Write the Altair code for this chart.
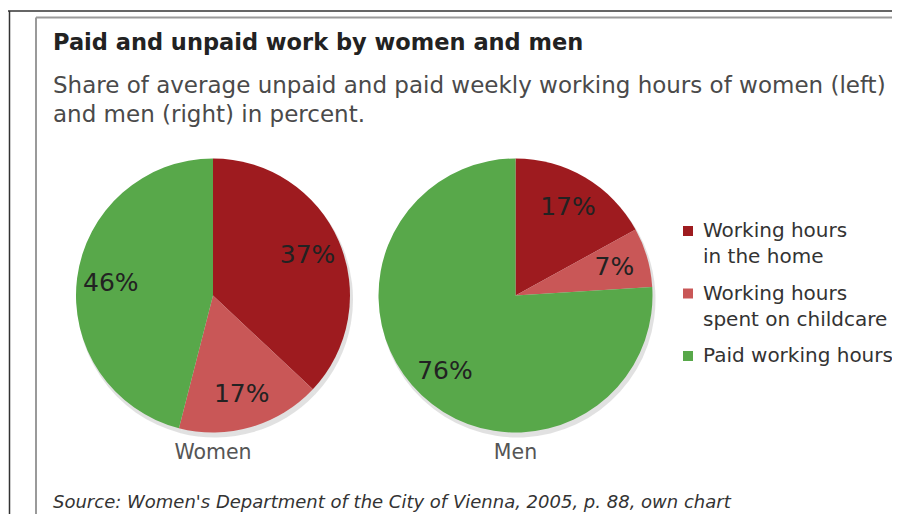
import altair as alt
import pandas as pd

# ---- data ----
groups = ["Women", "Men"]
categories = ["Working hours in the home", "Working hours spent on childcare", "Paid working hours"]
women_values = [37, 17, 46]
men_values = [17, 7, 76]
legend_labels = ["Working hours\nin the home", "Working hours\nspent on childcare", "Paid working hours"]
colors = ["#9e1b1f", "#c95757", "#58a84a"]

title_text = "Paid and unpaid work by women and men"
subtitle_text = "Share of average unpaid and paid weekly working hours of women (left)\nand men (right) in percent."
source_text = "Source: Women's Department of the City of Vienna, 2005, p. 88, own chart"

rows = []
for g, vals in zip(groups, [women_values, men_values]):
    for i, (c, v) in enumerate(zip(categories, vals)):
        rows.append({"group": g, "category": c, "value": v, "order": i, "label": f"{v}%"})
pie_df = pd.DataFrame(rows)
group_df = pd.DataFrame({"group": groups})
leg_df = pd.DataFrame({"category": categories, "label": legend_labels})

# ---- layout ----
W, H = 884, 506
cx = [205, 507.5]
cy = 287.5
R = 137
FONT = "DejaVu Sans"

x_enc = alt.X("group:N", scale=alt.Scale(type="point", domain=groups, range=cx, padding=0), axis=None)
color_scale = alt.Scale(domain=categories, range=colors)
theta_scale = alt.Scale(domain=[0, 100])

base = (
    alt.Chart(pie_df)
    .transform_stack(stack="value", groupby=["group"], as_=["v0", "v1"], sort=[alt.SortField("order")])
    .transform_calculate(mid="(datum.v0 + datum.v1) / 2")
)

shadow = base.mark_arc(radius=R + 1, color="#bdbdbd", opacity=0.45, xOffset=2, yOffset=4).encode(
    x=x_enc,
    y=alt.value(cy),
    theta=alt.Theta("v0:Q", scale=theta_scale, stack=False),
    theta2="v1:Q",
)

arcs = base.mark_arc(radius=R).encode(
    x=x_enc,
    y=alt.value(cy),
    theta=alt.Theta("v0:Q", scale=theta_scale, stack=False),
    theta2="v1:Q",
    color=alt.Color("category:N", scale=color_scale, legend=None),
)

pie_labels = base.mark_text(
    radius=103, font=FONT, fontSize=25, color="#222222", align="center", baseline="middle"
).encode(
    x=x_enc,
    y=alt.value(cy),
    theta=alt.Theta("mid:Q", scale=theta_scale, stack=False),
    text="label:N",
)

group_labels = alt.Chart(group_df).mark_text(
    font=FONT, fontSize=20.5, color="#555555", align="center", baseline="alphabetic"
).encode(x=x_enc, y=alt.value(451), text="group:N")

y_leg = alt.Y("category:N", scale=alt.Scale(type="point", domain=categories, range=[223, 348], padding=0), axis=None)

leg_squares = alt.Chart(leg_df).mark_square(size=100, opacity=1).encode(
    x=alt.value(680), y=y_leg, color=alt.Color("category:N", scale=color_scale, legend=None)
)

leg_text = (
    alt.Chart(leg_df)
    .transform_calculate(lines="split(datum.label, '\\n')")
    .mark_text(font=FONT, fontSize=20, color="#333333", align="left", baseline="alphabetic", dy=6, lineHeight=26)
    .encode(x=alt.value(695), y=y_leg, text="lines:N")
)

title = alt.Chart(pd.DataFrame({"t": [title_text]})).mark_text(
    font=FONT, fontSize=22.5, fontWeight="bold", color="#222222", align="left", baseline="alphabetic"
).encode(x=alt.value(45), y=alt.value(42), text="t:N")

subtitle = (
    alt.Chart(pd.DataFrame({"t": [subtitle_text]}))
    .transform_calculate(lines="split(datum.t, '\\n')")
    .mark_text(font=FONT, fontSize=23, color="#4a4a4a", align="left", baseline="alphabetic", lineHeight=29)
    .encode(x=alt.value(45), y=alt.value(85), text="lines:N")
)

source = alt.Chart(pd.DataFrame({"t": [source_text]})).mark_text(
    font=FONT, fontSize=18, fontStyle="italic", color="#333333", align="left", baseline="alphabetic"
).encode(x=alt.value(45), y=alt.value(500), text="t:N")

dummy = pd.DataFrame({"a": [0]})
outer_top = alt.Chart(dummy).mark_rule(color="#333333", strokeWidth=1.5).encode(
    x=alt.value(0), x2=alt.value(W), y=alt.value(3)
)
outer_left = alt.Chart(dummy).mark_rule(color="#333333", strokeWidth=1.5).encode(
    x=alt.value(1.5), y=alt.value(3), y2=alt.value(H)
)
inner_top = alt.Chart(dummy).mark_rule(color="#9a9a9a", strokeWidth=2).encode(
    x=alt.value(28), x2=alt.value(W), y=alt.value(9.5)
)
inner_left = alt.Chart(dummy).mark_rule(color="#9a9a9a", strokeWidth=2).encode(
    x=alt.value(28), y=alt.value(9.5), y2=alt.value(H)
)

chart = (
    alt.layer(
        outer_top, outer_left, inner_top, inner_left,
        shadow, arcs, pie_labels, group_labels,
        leg_squares, leg_text, title, subtitle, source,
    )
    .resolve_scale(y="independent")
    .properties(width=W, height=H, autosize=alt.AutoSizeParams(type="none"), padding=0, background="white")
    .configure_view(stroke=None)
)

chart.save("out.html", embed_options={"renderer": "svg", "actions": False})
